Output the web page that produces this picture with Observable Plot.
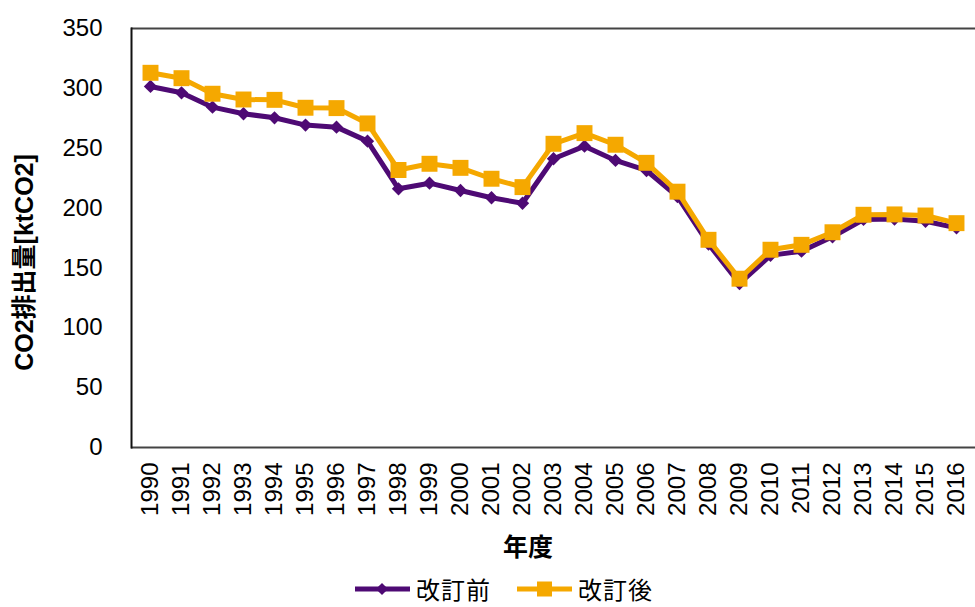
<!DOCTYPE html>
<html><head><meta charset="utf-8">
<script src="https://cdn.jsdelivr.net/npm/d3@7"></script>
<script src="https://cdn.jsdelivr.net/npm/@observablehq/plot@0.6"></script>
<style>
body{margin:0;background:#fff;font-family:"Liberation Sans",Arial,sans-serif;position:relative;width:975px;height:607px;}
#legend{position:absolute;left:355px;top:576px;height:26px;display:flex;align-items:center;font-family:"Noto Sans CJK JP";font-size:24px;color:#000;line-height:26px;}
.item{display:flex;align-items:center;height:26px;}
.item span{display:inline-block;line-height:26px;letter-spacing:1px;}
.item svg{margin-right:6px;}
</style></head><body>
<div id="chart"></div>
<div id="legend"></div>
<script>
const years = [1990,1991,1992,1993,1994,1995,1996,1997,1998,1999,2000,2001,2002,2003,2004,2005,2006,2007,2008,2009,2010,2011,2012,2013,2014,2015,2016];
const before = [301.6,296.3,284.3,278.8,275.4,269.3,267.6,255.9,216.1,220.8,214.7,208.6,204.0,241.2,251.7,239.8,231.4,209.5,170.0,137.0,160.5,164.0,176.0,190.5,190.8,189.0,183.5];
const after  = [313.0,308.5,295.5,290.7,290.4,283.8,283.5,270.7,231.8,237.0,233.6,224.5,217.5,253.7,262.6,252.9,237.8,213.7,173.5,141.0,165.2,169.3,179.8,194.4,194.7,193.8,187.4];
const yTicks = [0,50,100,150,200,250,300,350];
const seriesNames = ["改訂前","改訂後"];
const colors = ["#4e0a74","#f5a800"];
const yTitle = "CO2排出量[ktCO2]";
const xTitle = "年度";

const yearStr = years.map(String);
const dBefore = years.map((y,i)=>({year:String(y), v:before[i]}));
const dAfter = years.map((y,i)=>({year:String(y), v:after[i]}));
const latin = "Liberation Sans, Arial, 'Noto Sans CJK JP', sans-serif";

const chart = Plot.plot({
  width:975, height:570,
  marginLeft:131, marginRight:0, marginTop:28, marginBottom:123,
  style:{fontFamily:latin, fontSize:"24px", color:"#000", background:"#fff", overflow:"visible"},
  x:{type:"point", domain:yearStr, padding:0.5},
  y:{domain:[0,350]},
  marks:[
    Plot.axisY({ticks:yTicks, tickSize:0, tickPadding:29, label:null, fontSize:24}),
    Plot.axisX({tickSize:0, tickRotate:-90, tickPadding:15, label:null, fontSize:24}),
    Plot.ruleY([0,350], {stroke:"#444", strokeWidth:2}),
    Plot.frame({anchor:"left", stroke:"#111", strokeWidth:2}),
    Plot.line(dBefore, {x:"year", y:"v", stroke:colors[0], strokeWidth:5}),
    Plot.dot(dBefore, {x:"year", y:"v", symbol:"diamond2", r:6, fill:colors[0], stroke:null}),
    Plot.line(dAfter, {x:"year", y:"v", stroke:colors[1], strokeWidth:5}),
    Plot.dot(dAfter, {x:"year", y:"v", symbol:"square", r:9, fill:colors[1], stroke:null}),
    Plot.text([yTitle], {frameAnchor:"left", textAnchor:"middle", lineAnchor:"middle", rotate:-90, dx:-107, dy:24.5, fontWeight:"bold", fontSize:25, fill:"#000"}),
    Plot.text([xTitle], {frameAnchor:"bottom", textAnchor:"middle", lineAnchor:"middle", dx:-25.5, dy:100.5, fontWeight:"bold", fontSize:25, fill:"#000", fontFamily:"Noto Sans CJK JP"})
  ]
});
document.getElementById("chart").appendChild(chart);

const legend = d3.select("#legend");
seriesNames.forEach((name,i)=>{
  const it = legend.append("div").attr("class","item").style("margin-right", i===0 ? "26px" : "0px");
  const s = it.append("svg").attr("width",55).attr("height",20);
  s.append("line").attr("x1",0).attr("x2",55).attr("y1",10).attr("y2",10).attr("stroke",colors[i]).attr("stroke-width",5);
  if(i===0){
    s.append("path").attr("d",d3.symbol(d3.symbolDiamond2, 95)()).attr("transform","translate(27,10)").attr("fill",colors[i]);
  } else {
    s.append("rect").attr("x",20).attr("y",2.5).attr("width",15).attr("height",15).attr("fill",colors[i]);
  }
  it.append("span").text(name);
});
</script>
</body></html>
